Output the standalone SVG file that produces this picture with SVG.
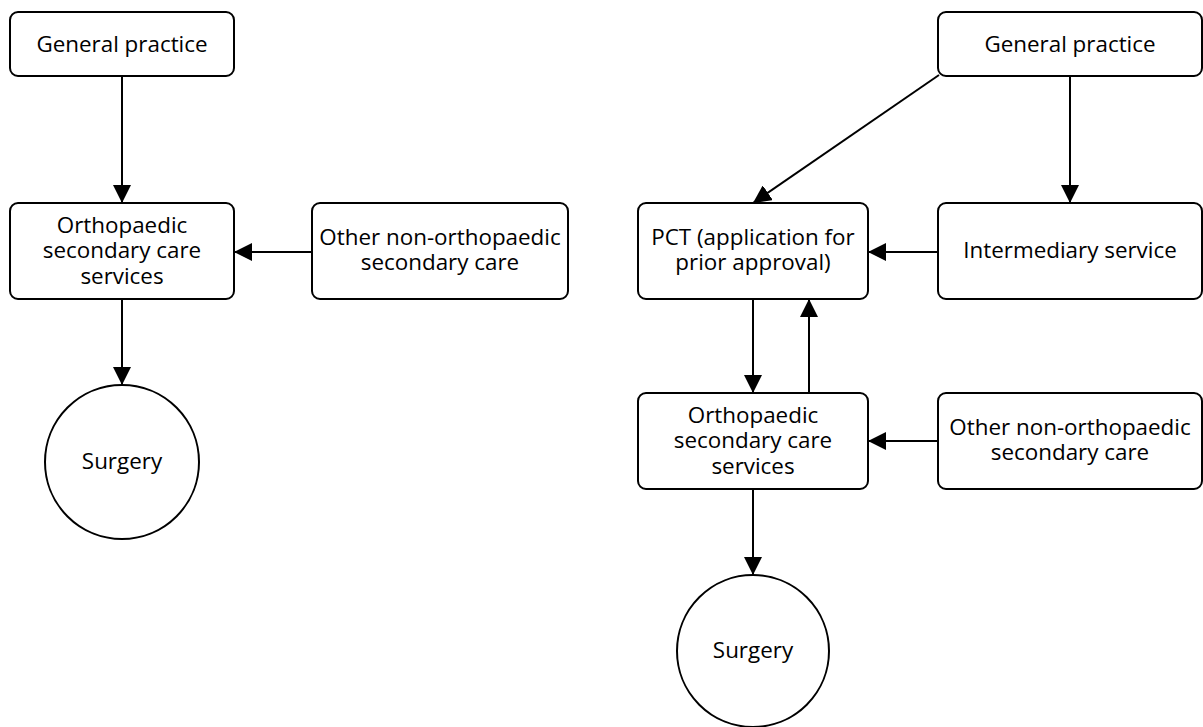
<svg xmlns="http://www.w3.org/2000/svg" width="1203" height="727" viewBox="0 0 1203 727">
<style>
.box{fill:#fff;stroke:#000;stroke-width:2}
.t{font-family:"Open Sans","Liberation Sans",sans-serif;font-size:22.4px;fill:#000;text-anchor:middle}
.c{stroke:#000;stroke-width:2;fill:none;marker-end:url(#ah)}
</style>
<defs>
<marker id="ah" markerUnits="userSpaceOnUse" markerWidth="18" markerHeight="18" refX="18" refY="9" orient="auto" viewBox="0 0 18 18">
<path d="M0,0 L18,9 L0,18 z" fill="#000"/>
</marker>
</defs>
<rect width="1203" height="727" fill="#fff"/>
<g id="connectors">
<line class="c" x1="122" y1="76" x2="122" y2="203"/>
<line class="c" x1="312" y1="252" x2="234" y2="252"/>
<line class="c" x1="122" y1="299" x2="122" y2="385"/>
<line class="c" x1="939" y1="75" x2="753" y2="203"/>
<line class="c" x1="1070" y1="76" x2="1070" y2="203"/>
<line class="c" x1="938" y1="252" x2="868" y2="252"/>
<line class="c" x1="753" y1="299" x2="753" y2="393"/>
<line class="c" x1="809" y1="393" x2="809" y2="299"/>
<line class="c" x1="938" y1="441" x2="868" y2="441"/>
<line class="c" x1="753" y1="489" x2="753" y2="575"/>
</g>
<g id="gp-left">
<rect class="box" x="10" y="12" width="224" height="64" rx="8"/>
<text class="t" x="122" y="52">General practice</text>
</g>
<g id="ortho-left">
<rect class="box" x="10" y="203" width="224" height="96" rx="8"/>
<text class="t" x="122" y="233">Orthopaedic</text>
<text class="t" x="122" y="258">secondary care</text>
<text class="t" x="122" y="284">services</text>
</g>
<g id="other-left">
<rect class="box" x="312" y="203" width="256" height="96" rx="8"/>
<text class="t" x="440" y="245">Other non-orthopaedic</text>
<text class="t" x="440" y="270">secondary care</text>
</g>
<g id="surgery-left">
<circle class="box" cx="122" cy="462" r="77"/>
<text class="t" x="122" y="469">Surgery</text>
</g>
<g id="gp-right">
<rect class="box" x="938" y="12" width="264" height="64" rx="8"/>
<text class="t" x="1070" y="52">General practice</text>
</g>
<g id="pct">
<rect class="box" x="638" y="203" width="230" height="96" rx="8"/>
<text class="t" x="753" y="245">PCT (application for</text>
<text class="t" x="753" y="270">prior approval)</text>
</g>
<g id="intermediary">
<rect class="box" x="938" y="203" width="264" height="96" rx="8"/>
<text class="t" x="1070" y="258">Intermediary service</text>
</g>
<g id="ortho-right">
<rect class="box" x="638" y="393" width="230" height="96" rx="8"/>
<text class="t" x="753" y="423">Orthopaedic</text>
<text class="t" x="753" y="448">secondary care</text>
<text class="t" x="753" y="474">services</text>
</g>
<g id="other-right">
<rect class="box" x="938" y="393" width="264" height="96" rx="8"/>
<text class="t" x="1070" y="435">Other non-orthopaedic</text>
<text class="t" x="1070" y="460">secondary care</text>
</g>
<g id="surgery-right">
<circle class="box" cx="753" cy="651" r="76"/>
<text class="t" x="753" y="658">Surgery</text>
</g>
</svg>
